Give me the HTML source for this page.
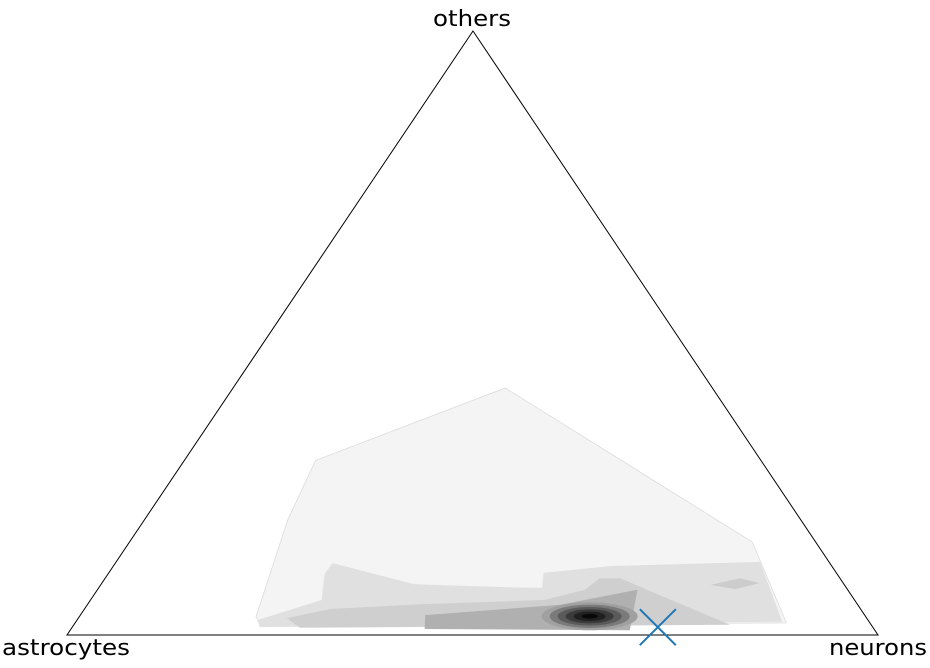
<!DOCTYPE html>
<html><head><meta charset="utf-8"><style>
html,body{margin:0;padding:0;background:#fff;width:930px;height:668px;overflow:hidden}
svg text{font-family:"DejaVu Sans","Liberation Sans",sans-serif;font-size:22px;fill:#000}
</style></head><body>
<svg id="chart" width="930" height="668" viewBox="0 0 930 668">
<g id="contours"></g>
<polygon points="67,635 878,635 473,31" fill="none" stroke="#000" stroke-width="1"/>
<text x="433" y="26" textLength="78" lengthAdjust="spacingAndGlyphs">others</text>
<text x="2" y="655" textLength="128" lengthAdjust="spacingAndGlyphs">astrocytes</text>
<text x="829" y="655" textLength="98" lengthAdjust="spacingAndGlyphs">neurons</text>
<g id="marks"></g>
</svg>
<script>
// ternary coordinates: [neurons fraction, others fraction]
const levelColors = ["#f4f4f4","#e0e0e0","#cfcfcf","#cccccc","#b0b0b0"];
const level1 = [[0.218,0.030],[0.177,0.190],[0.162,0.289],[0.336,0.409],[0.768,0.154],[0.877,0.020],[0.231,0.015]];
const level2 = [[0.223,0.025],[0.285,0.058],[0.267,0.101],[0.268,0.119],[0.387,0.084],[0.506,0.079],[0.547,0.078],[0.536,0.103],[0.613,0.114],[0.794,0.121],[0.871,0.022],[0.231,0.013]];
const level3 = [[0.257,0.028],[0.303,0.043],[0.410,0.051],[0.560,0.058],[0.601,0.075],[0.610,0.094],[0.635,0.094],[0.698,0.066],[0.809,0.017],[0.281,0.012]];
const level3b = [[0.752,0.083],[0.783,0.094],[0.811,0.086],[0.786,0.076]];
const level4 = [[0.425,0.033],[0.583,0.050],[0.666,0.075],[0.690,0.008],[0.436,0.010]];
const peak = [0.629,0.031];
const peakShades = ["#a0a0a0","#7a7a7a","#5a5a5a","#3a3a3a","#202020","#080808"];
const marker = [0.722,0.013];

const A=[67,635],B=[878,635],C=[473,31];
function tx(n,o){return A[0]+(B[0]-A[0])*(n+o/2);}
function ty(n,o){return A[1]-(A[1]-C[1])*o;}
const NS="http://www.w3.org/2000/svg";
const g=document.getElementById('contours');
function poly(pts,fill,name,stroke){
  const p=document.createElementNS(NS,'polygon');
  p.setAttribute('points',pts.map(d=>tx(d[0],d[1]).toFixed(1)+','+ty(d[0],d[1]).toFixed(1)).join(' '));
  p.setAttribute('fill',fill);
  if(stroke){p.setAttribute('stroke',stroke);p.setAttribute('stroke-width','0.8');}
  
  
  g.appendChild(p);
}
poly(level1,levelColors[0],'contour-level-1','#dcdcdc');
poly(level2,levelColors[1],'contour-level-2');
poly(level3,levelColors[2],'contour-level-3');
poly(level3b,levelColors[3],'contour-level-3-island');
poly(level4,levelColors[4],'contour-level-4');
const cx=tx(peak[0],peak[1]),cy=ty(peak[0],peak[1]);
peakShades.forEach((c,i)=>{
  const e=document.createElementNS(NS,'ellipse');
  const k=1-i/peakShades.length;
  e.setAttribute('cx',cx);e.setAttribute('cy',cy);
  e.setAttribute('rx',(48*k).toFixed(1));e.setAttribute('ry',(14*k).toFixed(1));
  e.setAttribute('fill',c);
  
  
  g.appendChild(e);
});
const m=document.getElementById('marks');
const mx=tx(marker[0],marker[1]),my=ty(marker[0],marker[1]);
const mk=document.createElementNS(NS,'path');
mk.setAttribute('d',`M${mx-18},${my-18}L${mx+18},${my+18}M${mx-18},${my+18}L${mx+18},${my-18}`);
mk.setAttribute('stroke','#1f77b4');mk.setAttribute('stroke-width','2');


m.appendChild(mk);
</script>
</body></html>
